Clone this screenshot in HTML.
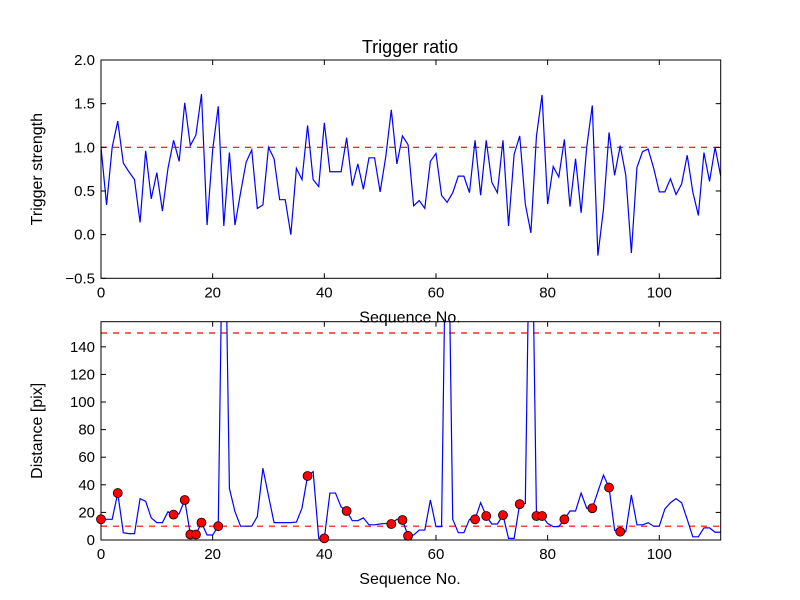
<!DOCTYPE html>
<html><head><meta charset="utf-8"><style>
body{margin:0;background:#fff;}
svg{display:block;font-family:"Liberation Sans","DejaVu Sans",sans-serif;}
</style></head><body>
<svg id="chart" width="800" height="600" viewBox="0 0 800 600">
<rect width="800" height="600" fill="#fff"/>
<text x="410" y="53" font-size="18" text-anchor="middle">Trigger ratio</text>
</svg>
<script>
const seq = Array.from({length:112},(_,i)=>i);
const ratioValues=[1.0,0.34,1.0,1.30,0.82,0.72,0.63,0.14,0.96,0.41,0.71,0.27,0.76,1.08,0.84,1.51,1.02,1.14,1.61,0.11,0.97,1.47,0.10,0.94,0.11,0.48,0.83,0.97,0.30,0.34,1.0,0.87,0.40,0.40,0.0,0.76,0.63,1.25,0.63,0.55,1.28,0.72,0.72,0.72,1.11,0.56,0.81,0.52,0.88,0.88,0.49,0.89,1.43,0.81,1.13,1.03,0.33,0.39,0.30,0.84,0.93,0.45,0.37,0.48,0.67,0.67,0.48,1.08,0.45,1.08,0.60,0.48,1.08,0.10,0.92,1.13,0.35,0.02,1.13,1.60,0.35,0.78,0.66,1.09,0.32,0.87,0.25,1.0,1.48,-0.24,0.29,1.17,0.68,1.02,0.68,-0.21,0.77,0.95,0.98,0.76,0.49,0.49,0.64,0.46,0.58,0.91,0.49,0.22,0.94,0.61,1.0,0.67];
const distValues=[15,15,15,34,5.3,4.6,4.6,30,28,16,12.6,12.6,20.5,18.4,19,29,4,4,12.6,3.6,3.6,10,300,37.4,20.5,10,10,10,17,52,32,12.6,12.6,12.6,12.6,13,23,46.4,49.5,1.2,1.2,34,34,24,21,14,14,16,11,11,11.6,12,11.6,15,14.5,3,3.6,7.2,7.2,29,9.7,9.7,300,15,5.3,5.3,15,15,27,17.4,11.6,11.6,18,1.2,1.2,26,26.5,300,17.4,17.4,12,9.7,9.7,15,21,21,34,23,23,35,47,38,7,6,6,32.6,11,11,12.5,10,10,22.5,27,30,27,15,2.3,2.3,8.8,8.8,5.6,5.6];
const dotIdx=[0,3,13,15,16,17,18,21,37,40,44,52,54,55,67,69,72,75,78,79,83,88,91,93];
const xTicks=[0,20,40,60,80,100];
const topYTicks=[2.0,1.5,1.0,0.5,0.0,-0.5];
const botYTicks=[0,20,40,60,80,100,120,140];
const topThresh=[1.0];
const botThresh=[10,150];

const NS="http://www.w3.org/2000/svg";
const svg=document.getElementById('chart');
function mk(tag,attrs,parent){const e=document.createElementNS(NS,tag);for(const k in attrs)e.setAttribute(k,attrs[k]);(parent||svg).appendChild(e);return e;}
const L=101,R=720.7,XMAX=111;
const xs=v=>L+(R-L)*v/XMAX;

function panel(name,top,bot,ymin,ymax,vals,yt,thr,fmt,ylabel){
  const g=mk('g',{});
  
  
  const ys=v=>bot-(bot-top)*(v-ymin)/(ymax-ymin);
  const cid='clip-'+name;
  const cp=mk('clipPath',{id:cid},g);mk('rect',{x:L,y:top,width:R-L,height:bot-top},cp);
  thr.forEach(t=>{const l=mk('line',{x1:L,x2:R,y1:ys(t),y2:ys(t),stroke:'#ff0000','stroke-width':1.2,'stroke-dasharray':'6,6'},g);
    
    });
  const d=vals.map((v,i)=>(i?'L':'M')+xs(seq[i]).toFixed(2)+','+ys(v).toFixed(2)).join('');
  const p=mk('path',{d:d,fill:'none',stroke:'#0000ff','stroke-width':1.2,'clip-path':'url(#'+cid+')'},g);
  
  
  mk('rect',{x:L,y:top,width:R-L,height:bot-top,fill:'none',stroke:'#000','stroke-width':1},g);
  xTicks.forEach(t=>{const x=xs(t);
    mk('line',{x1:x,x2:x,y1:bot,y2:bot-5,stroke:'#000'},g);mk('line',{x1:x,x2:x,y1:top,y2:top+5,stroke:'#000'},g);
    const tx=mk('text',{x:x,y:bot+19,'font-size':15,'text-anchor':'middle'},g);tx.textContent=t;
    
    });
  yt.forEach(t=>{const y=ys(t);
    mk('line',{x1:L,x2:L+5,y1:y,y2:y,stroke:'#000'},g);mk('line',{x1:R,x2:R-5,y1:y,y2:y,stroke:'#000'},g);
    const tx=mk('text',{x:L-6,y:y+5,'font-size':15,'text-anchor':'end'},g);tx.textContent=fmt(t);
    
    });
  const xl=mk('text',{x:410,y:bot+44,'font-size':16,'text-anchor':'middle'},g);xl.textContent='Sequence No.';
  
  
  const yl=mk('text',{x:0,y:0,'font-size':16,'text-anchor':'middle',transform:'translate(42,'+((top+bot)/2)+') rotate(-90)'},g);yl.textContent=ylabel;
  
  
  return {g,ys};
}
panel('trigger-panel',60,278.3,-0.5,2.0,ratioValues,topYTicks,topThresh,t=>t.toFixed(1).replace('-','\u2212'),'Trigger strength');
const bp=panel('distance-panel',321.7,540,0,158.2,distValues,botYTicks,botThresh,t=>String(t),'Distance [pix]');
dotIdx.forEach(i=>{const c=mk('circle',{cx:xs(seq[i]),cy:bp.ys(distValues[i]),r:4.5,fill:'#ff0000',stroke:'#000','stroke-width':0.8},bp.g);
  
  });
</script>
</body></html>
